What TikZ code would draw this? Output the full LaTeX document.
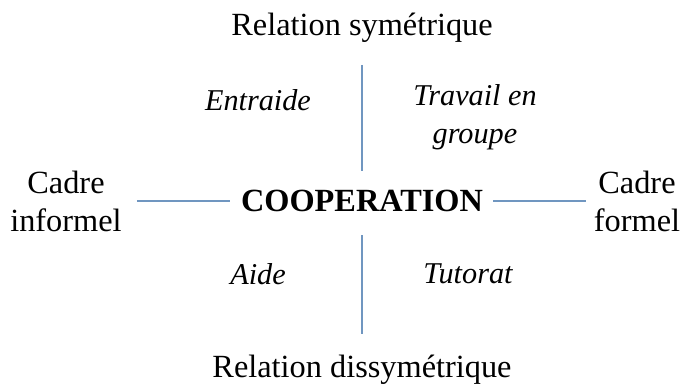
\documentclass[tikz,border=0pt]{standalone}
\usepackage{fontspec}
\setmainfont{Liberation Serif}
\definecolor{azuleje}{RGB}{112,150,192}
\tikzset{
  texto/.style={font=\fontsize{18.4}{21.6}\selectfont, align=center},
  cursiva/.style={texto, font=\fontsize{17.2}{21.6}\selectfont\itshape},
  eje/.style={azuleje, line width=0.6pt}
}
\begin{document}
\begin{tikzpicture}
    \useasboundingbox (-7.24,-3.72) rectangle (6.56,4.02);

    % Nodo central
    \node[texto, font=\fontsize{18.4}{21.6}\selectfont\bfseries] (coop) at (0,0) {COOPERATION};

    % Extremos de los ejes
    \node[texto] (sym) at (0,3.46) {Relation symétrique};
    \node[texto] (dis) at (0,-3.38) {Relation dissymétrique};
    \node[texto] (inf) at (-5.92,0) {Cadre\\informel};
    \node[texto] (for) at (5.5,0) {Cadre\\formel};

    % Cuadrantes
    \node[cursiva] (entr) at (-2.08,2.02) {Entraide};
    \node[cursiva] (trav) at (2.26,1.68) {Travail en\\groupe};
    \node[cursiva] (aide) at (-2.08,-1.46) {Aide};
    \node[cursiva] (tuto) at (2.12,-1.46) {Tutorat};

    % Dibuja los ejes
    \draw[eje, shorten <=0.18cm, shorten >=0.1cm] (inf) -- (coop);
    \draw[eje, shorten <=0.08cm, shorten >=0.04cm] (coop) -- (for);
    \draw[eje, shorten <=0.32cm, shorten >=0.26cm] (sym) -- (coop);
    \draw[eje, shorten <=0.34cm, shorten >=0.3cm] (coop) -- (dis);
\end{tikzpicture}
\end{document}
